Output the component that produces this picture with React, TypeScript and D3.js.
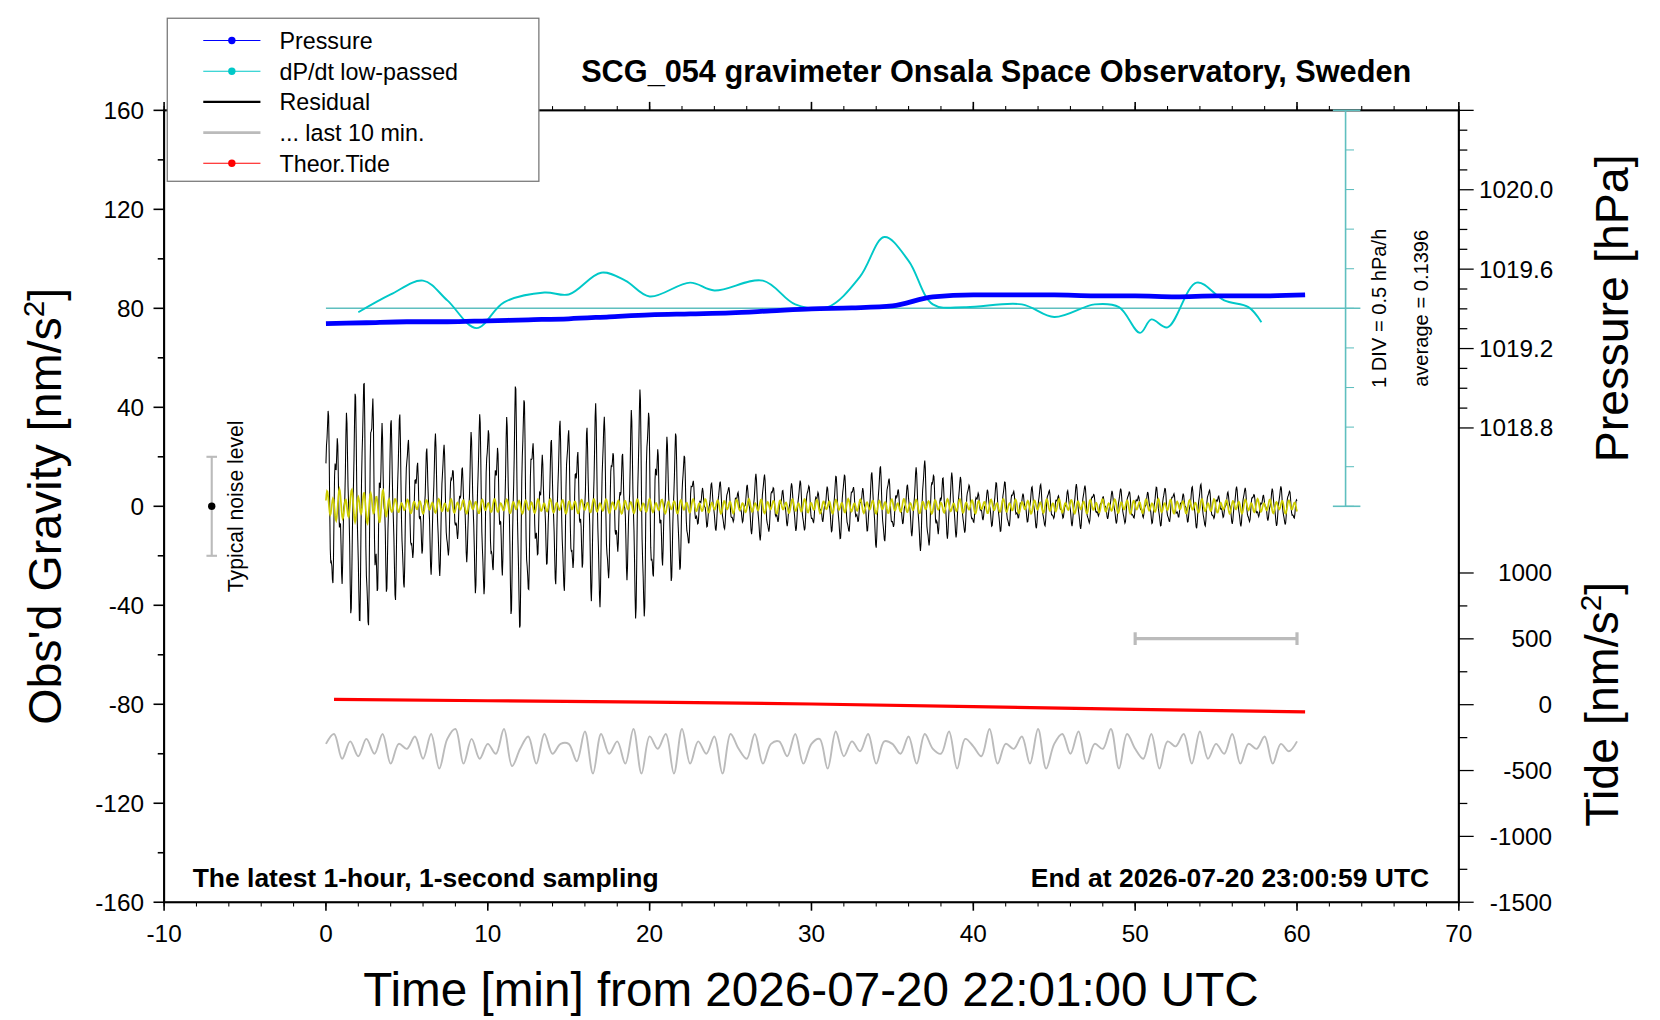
import React from 'react';
import * as d3 from 'd3';

// residual envelope amplitude (nm/s^2), one per minute 0..60
const residualEnv = [50, 55, 45, 75, 40, 35, 34, 28, 24, 34, 40, 50, 50, 40, 30, 40, 45, 40, 35, 45, 50, 40, 24, 14, 10, 10, 12, 14, 12, 10, 11, 11, 14, 12, 17, 14, 12, 20, 22, 12, 11, 9, 11, 9, 9, 8, 9, 9, 7, 7, 8, 8, 8, 9, 9, 8, 8, 8, 8, 8, 8];
// pressure (hPa) every 2.5 min
const pressureT = [0, 2.5, 5, 7.5, 10, 12.5, 15, 17.5, 20, 22.5, 25, 27.5, 30, 32.5, 35, 37.5, 40, 42.5, 45, 47.5, 50, 52.5, 55, 57.5, 60.5];
const pressureV = [1019.325, 1019.33, 1019.335, 1019.335, 1019.34, 1019.345, 1019.35, 1019.36, 1019.37, 1019.375, 1019.38, 1019.39, 1019.4, 1019.405, 1019.415, 1019.46, 1019.47, 1019.47, 1019.47, 1019.465, 1019.465, 1019.46, 1019.465, 1019.465, 1019.47];
// dP/dt low-passed, deviation from average in DIV units
const dpdtT = [2, 4, 6, 7.5, 9.3, 11, 13.5, 15, 17, 18.5, 20, 22.5, 24, 27, 29, 31, 33, 34.5, 36, 37.5, 39.5, 43, 45, 47.5, 49, 50.3, 51, 52, 53.8, 55.5, 57, 57.8];
const dpdtV = [-0.1, 0.35, 0.7, 0.2, -0.5, 0.15, 0.4, 0.35, 0.9, 0.7, 0.3, 0.65, 0.45, 0.7, 0.1, 0.03, 0.8, 1.8, 1.2, 0.1, 0.03, 0.1, -0.22, 0.1, 0.03, -0.62, -0.28, -0.48, 0.65, 0.2, 0.03, -0.35];
// theoretical tide (nm/s^2) on right tide axis
const tideT = [0.5, 10, 20, 30, 40, 50, 60.5];
const tideV = [40, 30, 20, 5, -15, -35, -55];
// last 10 min, stretched over plot width: level around -97 nm/s^2
const lastT = d3.range(0, 60.01, 0.5);
const lastV = [-96, -92, -102, -95, -101, -94, -100, -92, -104, -96, -98, -93, -102, -92, -106, -94, -90, -104, -94, -102, -96, -100, -90, -105, -98, -93, -104, -92, -100, -96, -96, -103, -91, -108, -92, -100, -95, -104, -90, -108, -93, -98, -92, -108, -90, -104, -95, -100, -93, -108, -92, -98, -102, -92, -104, -96, -95, -101, -92, -104, -96, -94, -106, -91, -101, -95, -99, -92, -104, -95, -96, -100, -93, -104, -92, -98, -100, -91, -106, -94, -97, -101, -90, -104, -96, -98, -93, -104, -90, -106, -96, -92, -100, -91, -104, -96, -98, -90, -106, -92, -98, -102, -92, -106, -95, -97, -92, -104, -91, -102, -96, -100, -92, -104, -96, -98, -93, -104, -96, -99, -95];

const W = 1568, H = 963;
const x = d3.scaleLinear().domain([-10, 70]).range([155, 1378]);
const y = d3.scaleLinear().domain([-160, 160]).range([852, 104]);
const yP = d3.scaleLinear().domain([1018.8, 1020.0]).range([404, 179]);
const yT = d3.scaleLinear().domain([-1500, 1000]).range([852, 541]);
const divPx = 37.4;
const yD = (v: number) => y(80) - v * divPx;

const envAt = (t: number) => {
  const i = Math.min(59, Math.floor(t));
  const f = t - i;
  return residualEnv[i] * (1 - f) + residualEnv[i + 1] * f;
};

export default function App() {
  const res: [number, number][] = [];
  const yel: [number, number][] = [];
  for (let s = 0; s <= 3600; s += 2) {
    const t = s / 60;
    const osc = 0.65 * Math.sin((2 * Math.PI * s) / 33) + 0.25 * Math.sin((2 * Math.PI * s) / 27 + 1) + 0.15 * Math.sin((2 * Math.PI * s) / 11 + 2);
    res.push([t, envAt(t) * osc]);
    const ya = t < 4 ? 7 : 3;
    yel.push([t, ya * (0.7 * Math.sin((2 * Math.PI * s) / 23 + 0.5) + 0.3 * Math.sin((2 * Math.PI * s) / 41))]);
  }
  const ln = d3.line<[number, number]>().x(d => x(d[0])).y(d => y(d[1]));
  const pLine = d3.line<number>().x((_, i) => x(pressureT[i])).y(v => yP(v)).curve(d3.curveMonotoneX);
  const dLine = d3.line<number>().x((_, i) => x(dpdtT[i])).y(v => yD(v)).curve(d3.curveCatmullRom);
  const tLine = d3.line<number>().x((_, i) => x(tideT[i])).y(v => yT(v));
  const gLine = d3.line<number>().x((_, i) => x(lastT[i])).y(v => y(v)).curve(d3.curveCatmullRom);
  const font = "'Liberation Sans', Arial, sans-serif";
  const xt = d3.range(-10, 71, 10);
  const xm = d3.range(-10, 71, 2);
  const yt = d3.range(-160, 161, 40);
  const ym = d3.range(-160, 161, 20);
  const pm = d3.range(0, 17).map(i => Math.round((1020.4 - i * 0.1) * 10) / 10);
  const tm = d3.range(-1500, 1001, 250);
  const cyX = 1271;
  const cyTicks = d3.range(-5, 5).map(i => y(80) - i * divPx);
  const legend = [
    { label: 'Pressure', color: '#0000ff', dot: true, w: 1 },
    { label: 'dP/dt low-passed', color: '#00c8c8', dot: true, w: 1 },
    { label: 'Residual', color: '#000', dot: false, w: 2 },
    { label: '... last 10 min.', color: '#bbb', dot: false, w: 2.5 },
    { label: 'Theor.Tide', color: '#ff0000', dot: true, w: 1 },
  ];
  return (
    <svg width={1660} height={1020} viewBox={`0 0 ${W} ${H}`} style={{ position: 'absolute', left: 0, top: 0 }} fontFamily={font}>
      <rect width={W} height={H} fill="#fff" />
      <rect x={155} y={104} width={1223} height={748} fill="none" stroke="#000" strokeWidth={2} />
      {xm.map(v => <line key={'xm' + v} x1={x(v)} x2={x(v)} y1={852} y2={856} stroke="#000" />)}
      {xm.map(v => <line key={'xmt' + v} x1={x(v)} x2={x(v)} y1={104} y2={100} stroke="#000" />)}
      {xt.map(v => <g key={'xt' + v}>
        <line x1={x(v)} x2={x(v)} y1={852} y2={860} stroke="#000" strokeWidth={1.5} />
        <line x1={x(v)} x2={x(v)} y1={104} y2={96} stroke="#000" strokeWidth={1.5} />
        <text x={x(v)} y={890} fontSize={23} textAnchor="middle">{v}</text>
      </g>)}
      {ym.map(v => <line key={'ym' + v} x1={155} x2={v % 40 === 0 ? 145 : 149} y1={y(v)} y2={y(v)} stroke="#000" strokeWidth={1.5} />)}
      {yt.map(v => <text key={'yt' + v} x={136} y={y(v) + 8} fontSize={23} textAnchor="end">{v}</text>)}
      {pm.map((v, i) => <line key={'pm' + i} x1={1378} x2={Math.round(v * 10) % 4 === 0 ? 1392 : 1386} y1={yP(v)} y2={yP(v)} stroke="#000" strokeWidth={1.2} />)}
      {[1020.0, 1019.6, 1019.2, 1018.8].map(v => <text key={'pl' + v} x={1397} y={yP(v) + 8} fontSize={23}>{v.toFixed(1)}</text>)}
      {tm.map(v => <line key={'tm' + v} x1={1378} x2={v % 500 === 0 ? 1392 : 1386} y1={yT(v)} y2={yT(v)} stroke="#000" strokeWidth={1.2} />)}
      {[1000, 500, 0, -500, -1000, -1500].map(v => <text key={'tl' + v} x={1466} y={yT(v) + 8} fontSize={23} textAnchor="end">{v}</text>)}
      <line x1={cyX} x2={cyX} y1={104} y2={478} stroke="#5fbfbf" strokeWidth={1.5} />
      <line x1={cyX - 12} x2={cyX + 14} y1={104} y2={104} stroke="#5fbfbf" strokeWidth={1.5} />
      <line x1={cyX - 12} x2={cyX + 14} y1={478} y2={478} stroke="#5fbfbf" strokeWidth={1.5} />
      {cyTicks.map((v, i) => <line key={'cy' + i} x1={cyX} x2={cyX + 8} y1={v} y2={v} stroke="#5fbfbf" />)}
      <line x1={x(0)} x2={cyX + 14} y1={y(80)} y2={y(80)} stroke="#5fbfbf" strokeWidth={1.5} />
      <text transform={`translate(1309,291) rotate(-90)`} fontSize={19} textAnchor="middle">1 DIV = 0.5 hPa/h</text>
      <text transform={`translate(1349,291) rotate(-90)`} fontSize={19} textAnchor="middle">average = 0.1396</text>
      <path d={ln(res)!} fill="none" stroke="#000" strokeWidth={1} />
      <path d={ln(yel)!} fill="none" stroke="#cccc00" strokeWidth={1.6} />
      <path d={dLine(dpdtV)!} fill="none" stroke="#00c8c8" strokeWidth={1.8} />
      <path d={pLine(pressureV)!} fill="none" stroke="#0000ff" strokeWidth={4.5} />
      <path d={tLine(tideV)!} fill="none" stroke="#ff0000" strokeWidth={3} />
      <path d={gLine(lastV)!} fill="none" stroke="#bbb" strokeWidth={1.8} />
      <g stroke="#bbb" strokeWidth={3}>
        <line x1={x(50)} x2={x(60)} y1={603} y2={603} />
        <line x1={x(50)} x2={x(50)} y1={597} y2={609} />
        <line x1={x(60)} x2={x(60)} y1={597} y2={609} />
      </g>
      <g stroke="#bbb" strokeWidth={2}>
        <line x1={200} x2={200} y1={y(20)} y2={y(-20)} />
        <line x1={195} x2={205} y1={y(20)} y2={y(20)} />
        <line x1={195} x2={205} y1={y(-20)} y2={y(-20)} />
      </g>
      <circle cx={200} cy={y(0)} r={3.5} fill="#000" />
      <text transform={`translate(230,${y(0)}) rotate(-90)`} fontSize={20} textAnchor="middle">Typical noise level</text>
      <text x={941} y={77} fontSize={29} fontWeight="bold" textAnchor="middle">SCG_054 gravimeter Onsala Space Observatory, Sweden</text>
      <text x={182} y={838} fontSize={25} fontWeight="bold">The latest 1-hour, 1-second sampling</text>
      <text x={1350} y={838} fontSize={25} fontWeight="bold" textAnchor="end">End at 2026-07-20 23:00:59 UTC</text>
      <text x={766} y={950} fontSize={45} textAnchor="middle">Time [min] from 2026-07-20 22:01:00 UTC</text>
      <text transform="translate(58,478) rotate(-90)" fontSize={44} textAnchor="middle">Obs'd Gravity [nm/s<tspan dy={-16} fontSize={28}>2</tspan><tspan dy={16}>]</tspan></text>
      <text transform="translate(1538,291) rotate(-90)" fontSize={44} textAnchor="middle">Pressure [hPa]</text>
      <text transform="translate(1528,665) rotate(-90)" fontSize={44} textAnchor="middle">Tide [nm/s<tspan dy={-16} fontSize={28}>2</tspan><tspan dy={16}>]</tspan></text>
      <rect x={158} y={17} width={351} height={154} fill="#fff" stroke="#777" strokeWidth={1.2} />
      {legend.map((l, i) => {
        const ly = 38 + i * 29;
        return <g key={l.label}>
          <line x1={192} x2={246} y1={ly} y2={ly} stroke={l.color} strokeWidth={l.w} />
          {l.dot && <circle cx={219} cy={ly} r={3.5} fill={l.color} />}
          <text x={264} y={ly + 8} fontSize={22}>{l.label}</text>
        </g>;
      })}
    </svg>
  );
}
